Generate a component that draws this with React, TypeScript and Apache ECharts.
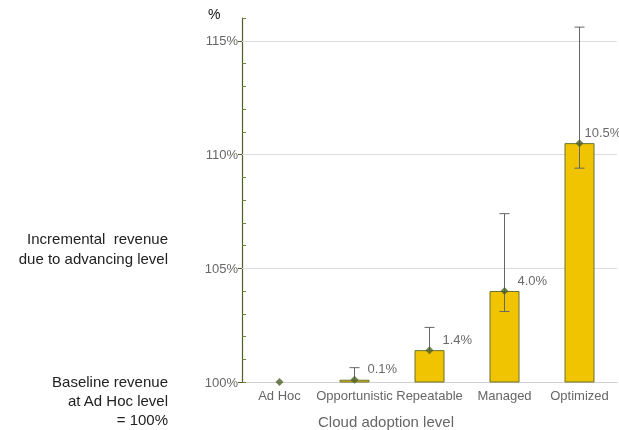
import React, { useEffect, useRef } from "react";
import * as echarts from "echarts";

const categories = ["Ad Hoc", "Opportunistic", "Repeatable", "Managed", "Optimized"];
const incrementPct = [0, 0.1, 1.4, 4.0, 10.5];
const errLow = [null, null, null, 103.1, 109.4];
const errHigh = [null, 100.63, 102.4, 107.4, 115.6];
const yTicks = [100, 105, 110, 115];

export default function App() {
  const ref = useRef<HTMLDivElement>(null);
  useEffect(() => {
    if (!ref.current) return;
    const chart = echarts.init(ref.current, undefined, { renderer: "svg" });
    const font = "Liberation Sans, Arial, sans-serif";
    const barData = incrementPct.map((v, i) => (i === 0 ? "-" : 100 + v));
    const markerData = incrementPct.map((v, i) => ({
      value: 100 + v,
      label: {
        show: i > 0,
        offset: i === 4 ? [-8, -11] : [0, -11],
      },
    }));
    const errData = categories
      .map((_, i) => [i, errLow[i] === null ? 100 + incrementPct[i] : errLow[i], errHigh[i], errLow[i] === null ? 0 : 1])
      .filter((d) => d[2] !== null);
    chart.setOption({
      animation: false,
      textStyle: { fontFamily: font },
      grid: { left: 242, right: 2, top: 18, bottom: 48 },
      xAxis: {
        type: "category",
        data: categories,
        axisLine: { show: true, lineStyle: { color: "#d0d0d0" } },
        axisTick: { show: false },
        axisLabel: { color: "#666", fontSize: 13, margin: 7, interval: 0, fontFamily: font },
      },
      yAxis: [
        {
          type: "value",
          min: 100,
          max: 116,
          interval: 5,
          position: "left",
          axisLine: { show: true, lineStyle: { color: "#4f5f1f", width: 1.2 } },
          axisTick: { show: true, inside: false, length: 4, lineStyle: { color: "#4f5f1f" }, customValues: yTicks },
          axisLabel: {
            color: "#666",
            fontSize: 13,
            margin: 4,
            fontFamily: font,
            customValues: yTicks,
            formatter: (v: number) => (yTicks.includes(v) ? v + "%" : ""),
          },
          splitLine: { show: false },
        },
        {
          type: "value",
          min: 100,
          max: 116,
          interval: 1,
          position: "left",
          axisLine: { show: false },
          axisTick: { show: true, inside: true, length: 4, lineStyle: { color: "#6f7f3f" } },
          axisLabel: { show: false },
          splitLine: { show: false },
        },
      ],
      series: [
        {
          type: "bar",
          data: barData,
          barWidth: 30,
          itemStyle: { color: "#f0c400", borderColor: "#6b7330", borderWidth: 1 },
          z: 2,
          markLine: {
            silent: true,
            symbol: "none",
            label: { show: false },
            lineStyle: { color: "#dcdcdc", type: "solid", width: 1 },
            data: yTicks.slice(1).map((v) => ({ yAxis: v })),
            z: 1,
          },
        },
        {
          type: "custom",
          data: errData,
          z: 3,
          renderItem: (params: any, api: any) => {
            const x = api.value(0);
            const lo = api.coord([x, api.value(1)]);
            const hi = api.coord([x, api.value(2)]);
            const hasLo = api.value(3) === 1;
            const cap = 5;
            const style = { stroke: "#666", lineWidth: 1 };
            const children: any[] = [
              { type: "line", shape: { x1: hi[0], y1: hi[1], x2: lo[0], y2: lo[1] }, style },
              { type: "line", shape: { x1: hi[0] - cap, y1: hi[1], x2: hi[0] + cap, y2: hi[1] }, style },
            ];
            if (hasLo) {
              children.push({ type: "line", shape: { x1: lo[0] - cap, y1: lo[1], x2: lo[0] + cap, y2: lo[1] }, style });
            }
            return { type: "group", children };
          },
        },
        {
          type: "scatter",
          data: markerData,
          symbol: "diamond",
          symbolSize: 8,
          itemStyle: { color: "#4f6228" },
          z: 4,
          label: {
            show: true,
            position: "right",
            distance: 9,
            color: "#444",
            fontSize: 13,
            fontFamily: font,
            formatter: (p: any) => incrementPct[p.dataIndex].toFixed(1) + "%",
          },
        },
      ],
      graphic: [
        { type: "text", x: 208, y: 7, style: { text: "%", fill: "#111", fontSize: 14, fontFamily: font } },
        {
          type: "text",
          x: 386,
          y: 421,
          style: {
            text: "Cloud adoption level",
            fill: "#666",
            fontSize: 15,
            align: "center",
            verticalAlign: "middle",
            fontFamily: font,
          },
        },
        {
          type: "text",
          x: 168,
          y: 228,
          style: {
            text: "Incremental  revenue\ndue to advancing level",
            fill: "#222",
            fontSize: 15,
            lineHeight: 20,
            align: "right",
            verticalAlign: "top",
            fontFamily: font,
          },
        },
        {
          type: "text",
          x: 168,
          y: 372,
          style: {
            text: "Baseline revenue\nat Ad Hoc level\n= 100%",
            fill: "#222",
            fontSize: 15,
            lineHeight: 19,
            align: "right",
            verticalAlign: "top",
            fontFamily: font,
          },
        },
      ],
    });
    return () => chart.dispose();
  }, []);
  return <div ref={ref} style={{ width: 619, height: 430, position: "fixed", left: 0, top: 0 }} />;
}
